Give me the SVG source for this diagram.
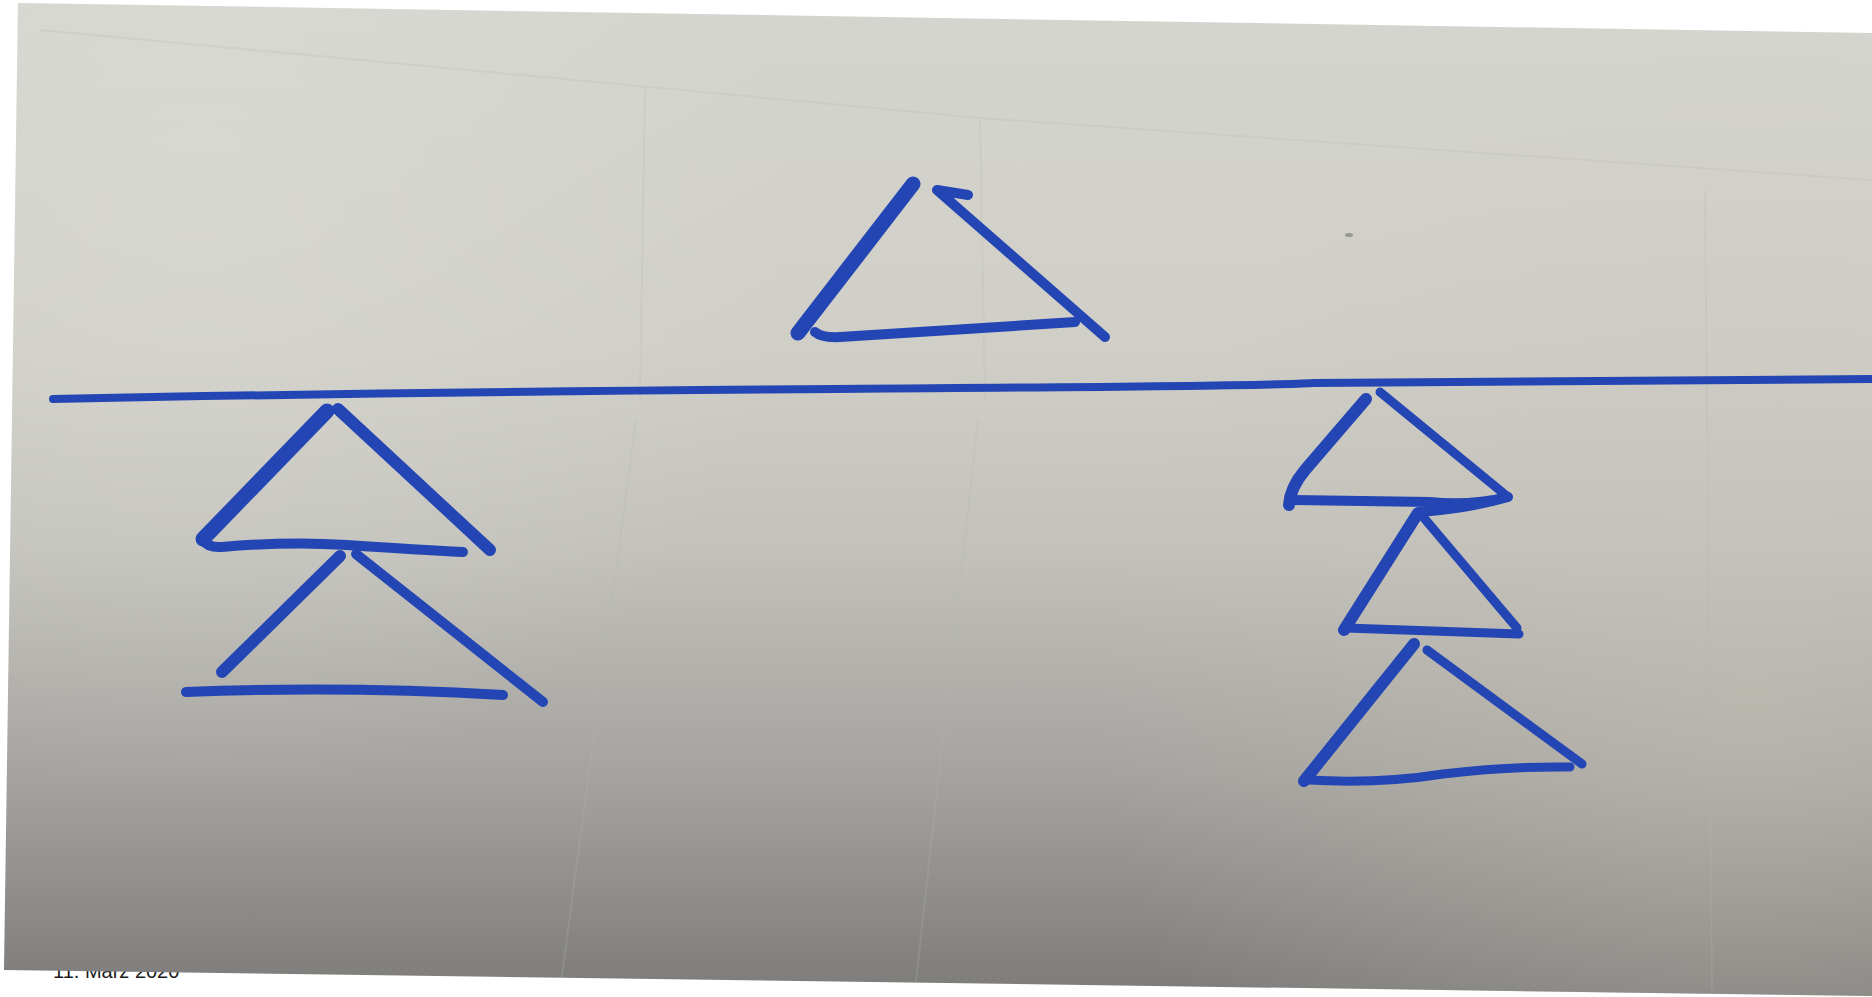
<svg xmlns="http://www.w3.org/2000/svg" width="1872" height="997" viewBox="0 0 1872 997">
  <defs>
    <linearGradient id="paperV" x1="0" y1="0" x2="0" y2="1">
      <stop offset="0" stop-color="#d5d5cf"/>
      <stop offset="0.35" stop-color="#cfcec7"/>
      <stop offset="0.55" stop-color="#c2c1bb"/>
      <stop offset="0.78" stop-color="#a5a39f"/>
      <stop offset="1" stop-color="#7c7b79"/>
    </linearGradient>
    <radialGradient id="rightGlow" cx="1750" cy="700" r="650" gradientUnits="userSpaceOnUse">
      <stop offset="0" stop-color="#c8c4b8" stop-opacity="0.45"/>
      <stop offset="1" stop-color="#c8c4b8" stop-opacity="0"/>
    </radialGradient>
    <radialGradient id="leftGlow" cx="200" cy="200" r="600" gradientUnits="userSpaceOnUse">
      <stop offset="0" stop-color="#e2e2dc" stop-opacity="0.35"/>
      <stop offset="1" stop-color="#e2e2dc" stop-opacity="0"/>
    </radialGradient>
    <clipPath id="paperClip">
      <polygon points="18,3 1872,33 1872,996 4,970"/>
    </clipPath>
    <style>
      .ink { fill: none; stroke: #2446b4; stroke-linecap: round; stroke-linejoin: round; }
      .w13 { stroke-width: 15; }
      .w10 { stroke-width: 12; }
      .w8 { stroke-width: 10; }
      .w7 { stroke-width: 9; }
      .line { stroke-width: 8; }
      .faint { fill: none; stroke: #b8b7b1; stroke-width: 2; opacity: 0.22; }
      .date { font-family: "Liberation Sans", Arial, sans-serif; font-size: 20px; fill: #1a1a1a; }
    </style>
  </defs>

  <rect x="0" y="0" width="1872" height="997" fill="#ffffff"/>

  <text class="date" x="53" y="978">11. März 2020</text>

  <g id="paper">
    <polygon points="18,3 1872,33 1872,996 4,970" fill="url(#paperV)"/>
    <polygon points="18,3 1872,33 1872,996 4,970" fill="url(#rightGlow)"/>
    <polygon points="18,3 1872,33 1872,996 4,970" fill="url(#leftGlow)"/>
    <g clip-path="url(#paperClip)">
      <path class="faint" d="M40,30 L980,118 L1872,180"/>
      <path class="faint" d="M980,120 L985,400 M978,420 L915,990"/>
      <path class="faint" d="M645,90 L640,400 M636,420 L560,990"/>
      <path class="faint" d="M1705,190 L1712,990"/>
    </g>
    <ellipse cx="1349" cy="235" rx="4" ry="2" fill="#6f6f6a" opacity="0.6"/>
  </g>

  <g id="connectors">
    <path id="baseline" class="ink line" d="M53,399 Q400,392 836,389 T1313,383 L1872,379"/>
  </g>

  <g id="triangle-top">
    <path class="ink w13" d="M913,184 L798,333"/>
    <path class="ink w8" d="M968,195 L937,190 L1105,337"/>
    <path class="ink w8" d="M815,332 Q822,338 840,337 L1075,322"/>
  </g>

  <g id="triangle-left-upper">
    <path class="ink w13" d="M327,411 L203,539"/>
    <path class="ink w10" d="M338,409 L490,550"/>
    <path class="ink w8" d="M203,540 Q208,548 222,547 Q290,541 347,545 Q420,550 463,552"/>
  </g>

  <g id="triangle-left-lower">
    <path class="ink w10" d="M340,556 L222,672"/>
    <path class="ink w8" d="M356,554 L543,702"/>
    <path class="ink w8" d="M186,692 Q345,686 503,695"/>
  </g>

  <g id="triangle-right-1">
    <path class="ink w10" d="M1366,399 L1305,470 Q1290,488 1289,505"/>
    <path class="ink w7" d="M1380,392 L1508,497"/>
    <path class="ink w8" d="M1293,500 L1430,502 Q1470,506 1508,497 Q1470,508 1421,512"/>
  </g>

  <g id="triangle-right-2">
    <path class="ink w10" d="M1418,513 L1344,630"/>
    <path class="ink w7" d="M1424,518 L1517,628"/>
    <path class="ink w7" d="M1346,628 L1519,634"/>
  </g>

  <g id="triangle-right-3">
    <path class="ink w10" d="M1414,644 L1304,781"/>
    <path class="ink w7" d="M1427,650 L1582,764"/>
    <path class="ink w7" d="M1308,780 Q1380,784 1443,774 Q1510,766 1570,767"/>
  </g>
</svg>
